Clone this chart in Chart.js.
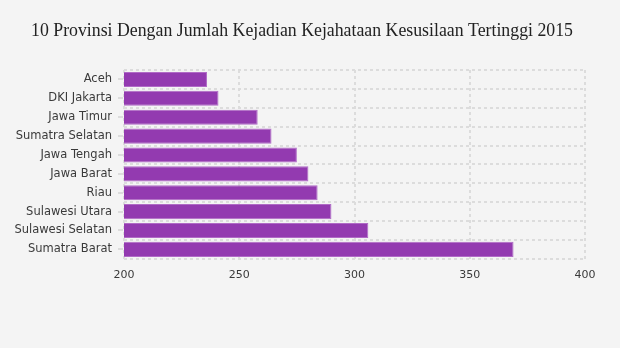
<!DOCTYPE html>
<html>
<head>
<meta charset="utf-8">
<script src="https://cdn.jsdelivr.net/npm/chart.js@4/dist/chart.umd.min.js"></script>
<style>
  html, body { margin: 0; padding: 0; background: #f4f4f4; }
  #wrap { width: 620px; height: 348px; }
</style>
</head>
<body>
<div id="wrap"><canvas id="c" width="620" height="348"></canvas></div>
<script>
const provinces = ['Aceh', 'DKI Jakarta', 'Jawa Timur', 'Sumatra Selatan', 'Jawa Tengah',
                   'Jawa Barat', 'Riau', 'Sulawesi Utara', 'Sulawesi Selatan', 'Sumatra Barat'];
const cases = [236, 241, 258, 264, 275, 280, 284, 290, 306, 369];
const xTicks = [200, 250, 300, 350, 400];

const titleText = '10 Provinsi Dengan Jumlah Kejadian Kejahataan Kesusilaan Tertinggi 2015';
const gridColor = '#dcdcdc';
const labelColor = '#3a3a3a';

// heading, centred a little right of the canvas middle
const heading = {
  id: 'heading',
  afterDraw(chart) {
    const ctx = chart.ctx;
    ctx.save();
    ctx.fillStyle = '#222';
    ctx.font = '17.8px "Liberation Serif"';
    ctx.textAlign = 'center';
    ctx.textBaseline = 'middle';
    ctx.fillText(titleText, 302, 31);
    ctx.restore();
  }
};

// short tick marks at the centre of each category row
const rowTicks = {
  id: 'rowTicks',
  afterDraw(chart) {
    const y = chart.scales.y;
    const ctx = chart.ctx;
    ctx.save();
    ctx.strokeStyle = gridColor;
    ctx.lineWidth = 2;
    y.ticks.forEach((t, i) => {
      const py = Math.round(y.getPixelForTick(i));
      ctx.beginPath();
      ctx.moveTo(y.right - 6, py);
      ctx.lineTo(y.right - 1, py);
      ctx.stroke();
    });
    ctx.restore();
  }
};

new Chart(document.getElementById('c'), {
  type: 'bar',
  data: {
    labels: provinces,
    datasets: [{
      data: cases,
      backgroundColor: '#933ab0',
      borderColor: '#b06ac6',
      borderWidth: 1,
      borderSkipped: false,
      barPercentage: 0.8,
      categoryPercentage: 1.0
    }]
  },
  options: {
    indexAxis: 'y',
    responsive: false,
    animation: false,
    devicePixelRatio: 1,
    layout: { padding: { left: 10, right: 35, top: 70, bottom: 56 } },
    plugins: {
      legend: { display: false },
      tooltip: { enabled: false },
      title: { display: false }
    },
    scales: {
      x: {
        min: 200,
        max: 400,
        afterBuildTicks(scale) { scale.ticks = xTicks.map(v => ({ value: v })); },
        grid: {
          color: gridColor,
          lineWidth: 2,
          drawTicks: false,
          borderDash: [3, 3]
        },
        border: { display: false, dash: [3, 3] },
        ticks: {
          color: labelColor,
          font: { family: 'DejaVu Sans', size: 11 },
          padding: 10
        }
      },
      y: {
        afterFit(scale) { scale.width = 114; },
        grid: {
          color: gridColor,
          lineWidth: 2,
          offset: true,
          drawTicks: false,
          borderDash: [3, 3]
        },
        border: { display: false, dash: [3, 3] },
        ticks: {
          color: labelColor,
          font: { family: 'DejaVu Sans', size: 11.5 },
          padding: 12
        }
      }
    }
  },
  plugins: [rowTicks, heading]
});
</script>
</body>
</html>
